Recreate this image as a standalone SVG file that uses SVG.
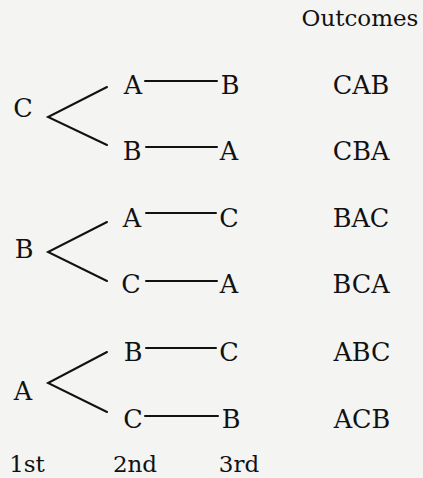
<svg xmlns="http://www.w3.org/2000/svg" width="423" height="478" viewBox="0 0 423 478">
  <style>
    text { font-family: "DejaVu Serif", "Liberation Serif", serif; font-size: 25.5px; fill: #111111; text-anchor: middle; }
    .lbl { font-size: 23px; }
    .edge { stroke: #111111; stroke-width: 2; fill: none; stroke-linecap: round; }
  </style>
  <rect width="423" height="478" fill="#f4f4f2"/>

  <g id="connectors">
    <path class="edge" d="M107,87 L48,117 L107,145"/>
    <path class="edge" d="M145,81 H217"/>
    <path class="edge" d="M146,147 H217"/>
    <path class="edge" d="M107,222 L48,252 L107,281"/>
    <path class="edge" d="M146,213 H216"/>
    <path class="edge" d="M146,281 H217"/>
    <path class="edge" d="M107,352 L48,383 L107,412"/>
    <path class="edge" d="M146,348 H216"/>
    <path class="edge" d="M145,416 H218"/>
  </g>

  <g id="header"><text class="lbl" x="360" y="26">Outcomes</text></g>

  <g id="n1-C"><text x="23" y="117">C</text></g>
  <g id="n2-CA"><text x="133" y="94">A</text></g>
  <g id="n3-CAB"><text x="230" y="94">B</text></g>
  <g id="o-CAB"><text x="361" y="94">CAB</text></g>
  <g id="n2-CB"><text x="132" y="160">B</text></g>
  <g id="n3-CBA"><text x="229" y="160">A</text></g>
  <g id="o-CBA"><text x="361" y="160">CBA</text></g>

  <g id="n1-B"><text x="24" y="258">B</text></g>
  <g id="n2-BA"><text x="132" y="227">A</text></g>
  <g id="n3-BAC"><text x="229" y="227">C</text></g>
  <g id="o-BAC"><text x="361" y="227">BAC</text></g>
  <g id="n2-BC"><text x="131" y="293">C</text></g>
  <g id="n3-BCA"><text x="229" y="293">A</text></g>
  <g id="o-BCA"><text x="361" y="293">BCA</text></g>

  <g id="n1-A"><text x="23" y="400">A</text></g>
  <g id="n2-AB"><text x="133" y="361">B</text></g>
  <g id="n3-ABC"><text x="229" y="361">C</text></g>
  <g id="o-ABC"><text x="362" y="361">ABC</text></g>
  <g id="n2-AC"><text x="133" y="428">C</text></g>
  <g id="n3-ACB"><text x="231" y="428">B</text></g>
  <g id="o-ACB"><text x="362" y="428">ACB</text></g>

  <g id="axis">
    <text class="lbl" x="27" y="472">1st</text>
    <text class="lbl" x="135" y="472">2nd</text>
    <text class="lbl" x="239" y="472">3rd</text>
  </g>
</svg>
